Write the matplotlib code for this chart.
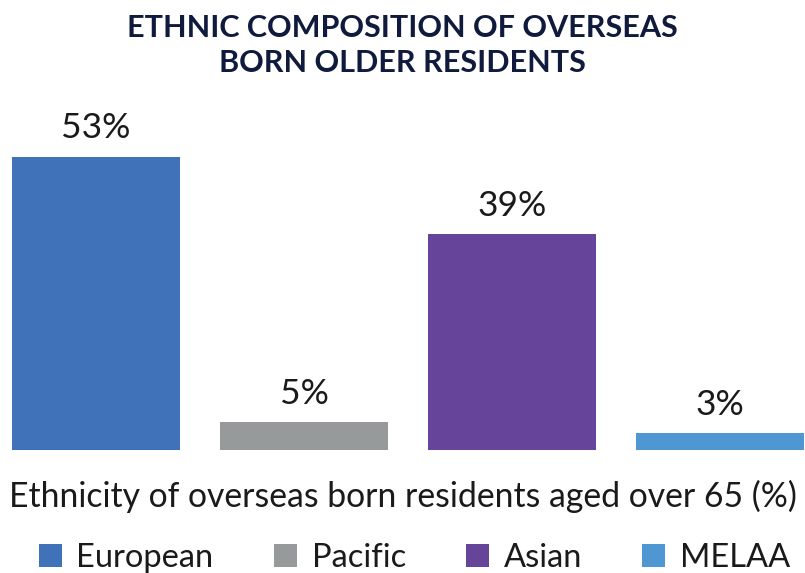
import matplotlib
matplotlib.use("Agg")
import matplotlib.pyplot as plt
from matplotlib.patches import Patch

categories = ["European", "Pacific", "Asian", "MELAA"]
values = [53, 5, 39, 3]
labels = ["53%", "5%", "39%", "3%"]
colors = ["#3f72b9", "#979a9a", "#66449a", "#4f97d3"]

plt.rcParams['font.family'] = ['Lato', 'DejaVu Sans']

fig = plt.figure(figsize=(8.05, 5.73), dpi=100)
ax = fig.add_axes([0, 123/573, 1, 350/573])
x = list(range(len(categories)))
bars = ax.bar(x, values, width=0.808, color=colors)
ax.set_xlim(-0.4615, 3.409)
ax.set_ylim(0, 350/5.53)
for b, lab in zip(bars, labels):
    ax.annotate(lab, (b.get_x() + b.get_width()/2, b.get_height()),
                xytext=(0, 9), textcoords="offset points",
                ha="center", va="bottom", fontsize=25.5, color="#1a1a1a")
ax.axis("off")

fig.text(0.5, 0.975, "ETHNIC COMPOSITION OF OVERSEAS\nBORN OLDER RESIDENTS",
         ha="center", va="top", fontsize=22, fontweight="bold",
         color="#0f1a3c", linespacing=1.3)
fig.text(0.5, (573-496)/573, "Ethnicity of overseas born residents aged over 65 (%)",
         ha="center", va="center", fontsize=24.3, color="#1a1a1a")

handles = [Patch(facecolor=c, edgecolor="none") for c in colors]
fig.legend(handles, categories, loc="center", bbox_to_anchor=(0.515, (573-558)/573),
           ncol=4, frameon=False, fontsize=23.5, handlelength=0.7, handleheight=0.7,
           handletextpad=0.45, columnspacing=1.85, borderpad=0, labelcolor="#1a1a1a")

fig.savefig("out.png", dpi=100)
